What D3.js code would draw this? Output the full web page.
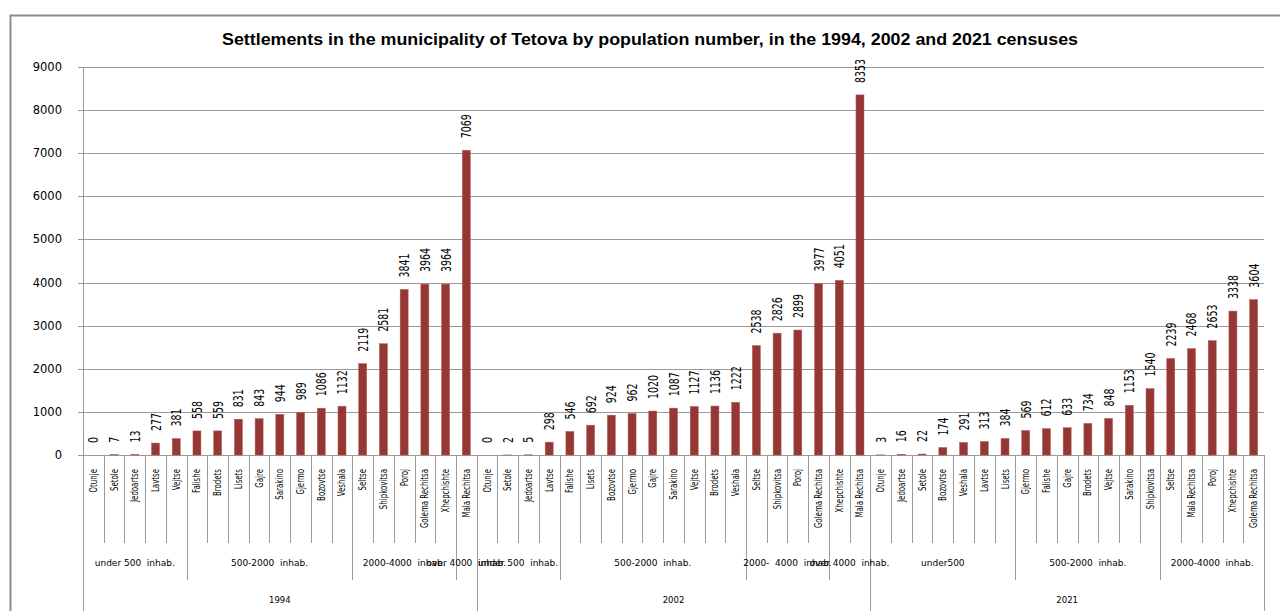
<!DOCTYPE html>
<html>
<head>
<meta charset="utf-8">
<script src="https://cdn.jsdelivr.net/npm/d3@7"></script>
<style>
	body {margin: 0; background: #fff;}
	svg {display: block;}
</style>
</head>
<body>
<div id="chart"></div>
<script>
	var years = ['1994', '2002', '2021'];

	var names1994 = ['Otunje', 'Setole', 'Jedoartse', 'Lavtse', 'Vejtse', 'Falishe', 'Brodets', 'Lisets', 'Gajre', 'Sarakino', 'Gjermo', 'Bozovtse', 'Veshala', 'Seltse', 'Shipkovitsa', 'Poroj', 'Golema Rechitsa', 'Xhepchishte', 'Mala Rechitsa'];
	var pop1994 = [0, 7, 13, 277, 381, 558, 559, 831, 843, 944, 989, 1086, 1132, 2119, 2581, 3841, 3964, 3964, 7069];
	var groups1994 = [['under 500  inhab.', 5], ['500-2000  inhab.', 8], ['2000-4000  inhab.', 5], ['over 4000  inhab.', 1]];

	var names2002 = ['Otunje', 'Setole', 'Jedoartse', 'Lavtse', 'Falishe', 'Lisets', 'Bozovtse', 'Gjermo', 'Gajre', 'Sarakino', 'Vejtse', 'Brodets', 'Veshala', 'Seltse', 'Shipkovitsa', 'Poroj', 'Golema Rechitsa', 'Xhepchishte', 'Mala Rechitsa'];
	var pop2002 = [0, 2, 5, 298, 546, 692, 924, 962, 1020, 1087, 1127, 1136, 1222, 2538, 2826, 2899, 3977, 4051, 8353];
	var groups2002 = [['under 500  inhab.', 4], ['500-2000  inhab.', 9], ['2000-  4000  inhab.', 4], ['over 4000  inhab.', 2]];

	var names2021 = ['Otunje', 'Jedoartse', 'Setole', 'Bozovtse', 'Veshala', 'Lavtse', 'Lisets', 'Gjermo', 'Falishe', 'Gajre', 'Brodets', 'Vejtse', 'Sarakino', 'Shipkovitsa', 'Seltse', 'Mala Rechitsa', 'Poroj', 'Xhepchishte', 'Golema Rechitsa'];
	var pop2021 = [3, 16, 22, 174, 291, 313, 384, 569, 612, 633, 734, 848, 1153, 1540, 2239, 2468, 2653, 3338, 3604];
	var groups2021 = [['under500', 7], ['500-2000  inhab.', 7], ['2000-4000  inhab.', 5]];

	var yTicks = [0, 1000, 2000, 3000, 4000, 5000, 6000, 7000, 8000, 9000];

(function(){
	var width = 1280, height = 611;
	var pLeft = 83, pRight = 1264, pTop = 67, pBottom = 455;

	// flatten into one list of categories
	var sets = [[names1994, pop1994, groups1994], [names2002, pop2002, groups2002], [names2021, pop2021, groups2021]];
	var cats = [], groups = [], yearSpans = [];
	sets.forEach(function(s, yi) {
		var start = cats.length;
		s[0].forEach(function(n, i) {
			cats.push({key: years[yi] + '|' + i, name: n, value: s[1][i]});
		});
		var pos = start;
		s[2].forEach(function(g) {
			groups.push({label: g[0], start: pos, end: pos + g[1]});
			pos += g[1];
		});
		yearSpans.push({label: years[yi], start: start, end: cats.length});
	});

	var x = d3.scaleBand()
		.domain(cats.map(function(d) {return d.key;}))
		.range([pLeft, pRight]);
	var bw = x.step();
	var edge = function(i) {return pLeft + i * bw;};

	var y = d3.scaleLinear().domain([0, 9000]).range([pBottom, pTop]);

	var svg = d3.select('#chart').append('svg')
		.attr('width', width)
		.attr('height', height);

	// outer frame
	svg.append('path')
		.attr('d', 'M10.5,' + height + 'V15.5H' + width)
		.attr('fill', 'none')
		.attr('stroke', '#8c8c8c')
		.attr('stroke-width', 2);

	svg.append('text')
		.attr('x', 650)
		.attr('y', 45)
		.attr('text-anchor', 'middle')
		.attr('textLength', 856)
		.attr('lengthAdjust', 'spacingAndGlyphs')
		.style('font-family', 'Liberation Sans, sans-serif')
		.style('font-weight', 'bold')
		.style('font-size', '16px')
		.text('Settlements in the municipality of Tetova by population number, in the 1994, 2002 and 2021 censuses');

	// gridlines + y labels
	var yAxis = svg.append('g');
	yAxis.selectAll('line')
		.data(yTicks)
		.enter().append('line')
			.attr('x1', pLeft - 5)
			.attr('x2', pRight)
			.attr('y1', function(d) {return Math.round(y(d)) + 0.5;})
			.attr('y2', function(d) {return Math.round(y(d)) + 0.5;})
			.attr('stroke', '#9a9a9a');
	yAxis.selectAll('text')
		.data(yTicks)
		.enter().append('text')
			.attr('x', 62)
			.attr('y', function(d) {return y(d) + 4;})
			.attr('text-anchor', 'end')
			.style('font-family', 'DejaVu Sans, sans-serif')
			.style('font-size', '11.5px')
			.text(function(d) {return d;});

	svg.append('line')
		.attr('x1', pLeft + 0.5).attr('x2', pLeft + 0.5)
		.attr('y1', pTop).attr('y2', height)
		.attr('stroke', '#9a9a9a');

	// bars
	svg.append('g').selectAll('rect')
		.data(cats)
		.enter().append('rect')
			.attr('x', function(d) {return x(d.key) + (bw - 8) / 2;})
			.attr('width', 8)
			.attr('y', function(d) {return y(d.value);})
			.attr('height', function(d) {return pBottom - y(d.value);})
			.attr('fill', '#953735')
			.attr('stroke', '#b45c5a')
			.attr('stroke-width', 0.5);

	// value labels, narrow and tall like the original
	svg.append('g').selectAll('text')
		.data(cats)
		.enter().append('text')
			.attr('transform', function(d) {
				return 'translate(' + (x(d.key) + bw / 2 + 5) + ',' + (y(d.value) - 12) + ') rotate(-90) scale(0.75,1)';
			})
			.style('font-family', 'DejaVu Sans Condensed, DejaVu Sans, sans-serif')
			.style('font-size', '14px')
			.text(function(d) {return d.value;});

	// category labels
	svg.append('g').selectAll('text')
		.data(cats)
		.enter().append('text')
			.attr('transform', function(d) {
				return 'translate(' + (x(d.key) + bw / 2 + 3.5) + ',' + (pBottom + 14) + ') rotate(-90) scale(0.78,1)';
			})
			.attr('text-anchor', 'end')
			.style('font-family', 'DejaVu Sans Condensed, sans-serif')
			.style('font-size', '10px')
			.text(function(d) {return d.name;});

	// separators
	var sep = svg.append('g').attr('stroke', '#9a9a9a');
	d3.range(cats.length + 1).forEach(function(i) {
		var y2 = 543;
		if (groups.some(function(g) {return g.start === i || g.end === i;})) y2 = 580;
		if (yearSpans.some(function(g) {return g.start === i || g.end === i;})) y2 = height;
		sep.append('line')
			.attr('x1', Math.round(edge(i)) + 0.5).attr('x2', Math.round(edge(i)) + 0.5)
			.attr('y1', pBottom).attr('y2', y2);
	});

	svg.append('g').selectAll('text')
		.data(groups)
		.enter().append('text')
			.attr('x', function(d) {return (edge(d.start) + edge(d.end)) / 2;})
			.attr('y', 566)
			.attr('text-anchor', 'middle')
			.style('font-family', 'DejaVu Sans, sans-serif')
			.style('font-size', '9px')
			.style('white-space', 'pre')
			.text(function(d) {return d.label;});

	svg.append('g').selectAll('text')
		.data(yearSpans)
		.enter().append('text')
			.attr('x', function(d) {return (edge(d.start) + edge(d.end)) / 2;})
			.attr('y', 603)
			.attr('text-anchor', 'middle')
			.style('font-family', 'DejaVu Sans, sans-serif')
			.style('font-size', '8.5px')
			.text(function(d) {return d.label;});
})();
</script>
</body>
</html>
